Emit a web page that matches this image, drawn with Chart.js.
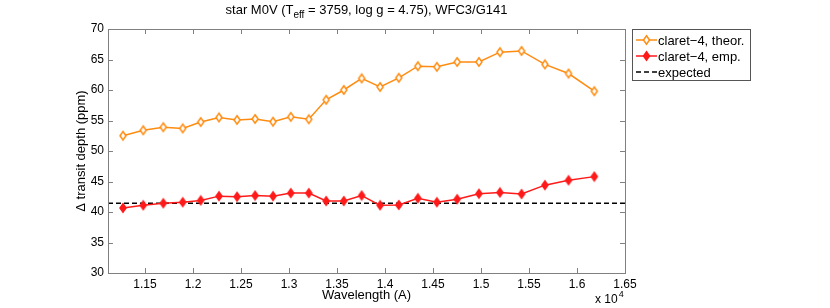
<!DOCTYPE html>
<html><head><meta charset="utf-8">
<script src="https://cdn.jsdelivr.net/npm/chart.js@4/dist/chart.umd.min.js"></script>
<style>html,body{margin:0;padding:0;background:#fff}#wrap{width:830px;height:308px}</style>
</head><body><div id="wrap"><canvas id="c" width="830" height="308"></canvas></div>
<script>
const wavelengths = [11271,11482,11691,11893,12081,12271,12459,12647,12834,13019,13206,13387,13571,13757,13949,14144,14342,14540,14752,14978,15197,15422,15666,15912,16180];
const theorDepth = [52.5,53.4,53.9,53.7,54.75,55.5,55.1,55.25,54.8,55.6,55.2,58.4,60.0,61.9,60.5,62.0,63.9,63.8,64.6,64.6,66.2,66.4,64.2,62.7,59.8];
const empDepth = [40.66,41.1,41.43,41.6,41.9,42.6,42.5,42.7,42.6,43.1,43.1,41.8,41.8,42.7,41.1,41.15,42.25,41.6,42.1,43.0,43.2,42.95,44.4,45.2,45.8];
const expectedDepth = 41.45;
const xTickValues = [11500,12000,12500,13000,13500,14000,14500,15000,15500,16000,16500];
const yTickValues = [30,35,40,45,50,55,60,65,70];
const seriesLabels = ['claret\u22124, theor.','claret\u22124, emp.','expected'];
const xTitle = 'Wavelength (A)';
const yTitle = '\u0394 transit depth (ppm)';
const FONT = 'Liberation Sans, Arial, Helvetica, sans-serif';

const theorPts = wavelengths.map((w,i)=>({x:w,y:theorDepth[i]}));
const empPts = wavelengths.map((w,i)=>({x:w,y:empDepth[i]}));
const expPts = [{x:11115,y:expectedDepth},{x:16500,y:expectedDepth}];

function diamond(ctx,cx,cy,hw,hh,fill,stroke){
  ctx.beginPath();
  ctx.moveTo(cx,cy-hh); ctx.lineTo(cx+hw,cy); ctx.lineTo(cx,cy+hh); ctx.lineTo(cx-hw,cy); ctx.closePath();
  ctx.fillStyle = fill; ctx.fill();
  ctx.strokeStyle = stroke; ctx.lineWidth = 1.5; ctx.stroke();
}
function markerImage(fill,stroke){
  const c = document.createElement('canvas'); c.width = 10; c.height = 12;
  diamond(c.getContext('2d'),5,6,3,4.2,fill,stroke);
  return c;
}
const orangeMarker = markerImage('#ffffff','#ff8c10');
const redMarker = markerImage('#ff1a1a','#ff1a1a');

const framePlugin = {
  id:'frame',
  afterDraw(chart){
    const ctx = chart.ctx, a = chart.chartArea, xs = chart.scales.x, ys = chart.scales.y;
    ctx.save();
    ctx.strokeStyle = '#808080'; ctx.lineWidth = 1;
    ctx.strokeRect(Math.round(a.left)+0.5, Math.round(a.top)+0.5, Math.round(a.right-a.left), Math.round(a.bottom-a.top));
    ctx.beginPath();
    xTickValues.forEach(v=>{
      const px = Math.round(xs.getPixelForValue(v))+0.5;
      ctx.moveTo(px,a.bottom); ctx.lineTo(px,a.bottom-5);
      ctx.moveTo(px,a.top); ctx.lineTo(px,a.top+5);
    });
    yTickValues.forEach(v=>{
      const py = Math.round(ys.getPixelForValue(v))+0.5;
      ctx.moveTo(a.left,py); ctx.lineTo(a.left+5,py);
      ctx.moveTo(a.right,py); ctx.lineTo(a.right-5,py);
    });
    ctx.stroke();
    ctx.fillStyle = '#000';
    ctx.textBaseline = 'alphabetic';
    const parts = [['star M0V (T',13,0],['eff',10,4],[' = 3759, log g = 4.75), WFC3/G141',13,0]];
    let total = 0;
    parts.forEach(p=>{ctx.font = p[1]+'px '+FONT; total += ctx.measureText(p[0]).width;});
    let x = (a.left+a.right)/2 - total/2;
    parts.forEach(p=>{ctx.font = p[1]+'px '+FONT; ctx.textAlign='left'; ctx.fillText(p[0],x,14+p[2]); x += ctx.measureText(p[0]).width;});
    ctx.font = '13px '+FONT; ctx.textAlign = 'center';
    ctx.fillText(xTitle,(a.left+a.right)/2,299);
    ctx.save();
    ctx.translate(85,(a.top+a.bottom)/2); ctx.rotate(-Math.PI/2);
    ctx.fillText(yTitle,0,0);
    ctx.restore();
    ctx.textAlign = 'left';
    ctx.font = '12px '+FONT;
    ctx.fillText('x 10',595,303);
    const w10 = ctx.measureText('x 10').width;
    ctx.font = '9px '+FONT;
    ctx.fillText('4',595+w10+1,297);
    // legend
    const lx = 632, ly = 29, lw = 118, lh = 51;
    ctx.fillStyle = '#fff';
    ctx.fillRect(lx,ly,lw,lh);
    ctx.strokeStyle = '#555'; ctx.lineWidth = 1;
    ctx.strokeRect(lx+0.5,ly+0.5,lw,lh);
    chart.data.datasets.forEach((d,i)=>{
      const yy = ly + 11 + i*16;
      ctx.strokeStyle = d.borderColor; ctx.lineWidth = d.borderWidth||1.5;
      ctx.setLineDash(d.borderDash||[]);
      ctx.beginPath(); ctx.moveTo(lx+4,yy); ctx.lineTo(lx+25,yy); ctx.stroke();
      ctx.setLineDash([]);
      if (d.pointRadius>0) diamond(ctx,lx+14.5,yy,3,4.2,d.pointBackgroundColor,d.pointBorderColor);
      ctx.fillStyle = '#000'; ctx.font = '13px '+FONT; ctx.textAlign='left'; ctx.textBaseline='middle';
      ctx.fillText(d.label, lx+26, yy+1);
    });
    ctx.restore();
  }
};

new Chart(document.getElementById('c'),{
  type:'line',
  data:{datasets:[
    {label:seriesLabels[0],data:theorPts,borderColor:'#ff8c10',borderWidth:1.5,pointStyle:orangeMarker,pointRadius:4,pointBackgroundColor:'#ffffff',pointBorderColor:'#ff8c10',tension:0},
    {label:seriesLabels[1],data:empPts,borderColor:'#ff1a1a',borderWidth:1.5,pointStyle:redMarker,pointRadius:4,pointBackgroundColor:'#ff1a1a',pointBorderColor:'#ff1a1a',tension:0},
    {label:seriesLabels[2],data:expPts,borderColor:'#000000',borderWidth:1.5,borderDash:[5,3],pointRadius:0,tension:0}
  ]},
  options:{
    responsive:false,animation:false,
    layout:{padding:{top:29,right:205,left:0,bottom:0}},
    plugins:{legend:{display:false},tooltip:{enabled:false},title:{display:false}},
    scales:{
      x:{type:'linear',min:11115,max:16500,
        afterBuildTicks(s){s.ticks = xTickValues.map(v=>({value:v}));},
        afterFit(s){s.height = 35;},
        grid:{display:false,drawTicks:false,tickLength:0},border:{display:false},
        ticks:{color:'#000',font:{family:FONT,size:12},padding:4,maxRotation:0,autoSkip:false,
          callback:v=>String(+(v/10000).toFixed(2))}
      },
      y:{type:'linear',min:30,max:70,
        afterBuildTicks(s){s.ticks = yTickValues.map(v=>({value:v}));},
        afterFit(s){s.width = 108;},
        grid:{display:false,drawTicks:false,tickLength:0},border:{display:false},
        ticks:{color:'#000',font:{family:FONT,size:12},padding:4,autoSkip:false}
      }
    }
  },
  plugins:[framePlugin]
});
</script></body></html>
